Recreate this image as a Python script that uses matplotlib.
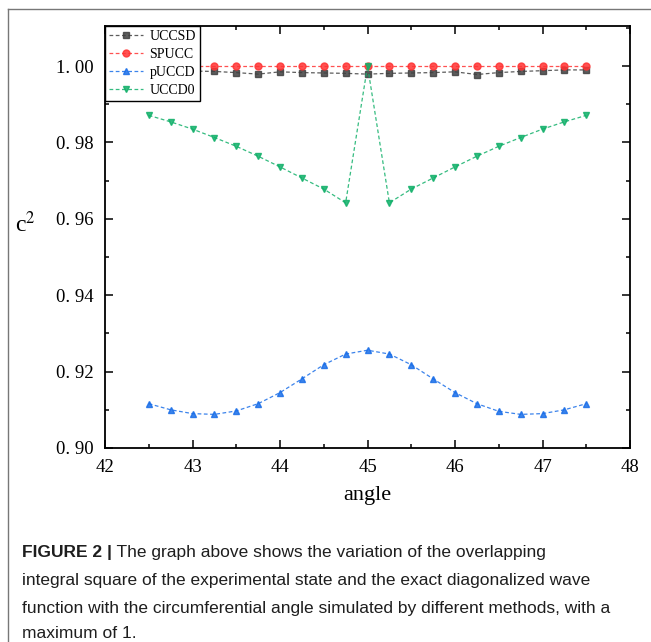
import numpy as np
import matplotlib
matplotlib.use("Agg")
import matplotlib.pyplot as plt
from matplotlib.ticker import MultipleLocator, FuncFormatter
from matplotlib.lines import Line2D

# data
angle = [42.5, 42.75, 43.0, 43.25, 43.5, 43.75, 44.0, 44.25, 44.5, 44.75, 45.0,
         45.25, 45.5, 45.75, 46.0, 46.25, 46.5, 46.75, 47.0, 47.25, 47.5]
uccsd = [0.9990, 0.9988, 0.9987, 0.9986, 0.9983, 0.9979, 0.9985, 0.9983, 0.9982,
         0.9981, 0.9979, 0.9981, 0.9982, 0.9983, 0.9985, 0.9978, 0.9983, 0.9986,
         0.9988, 0.9990, 0.9990]
spucc = [1.0000] * 21
puccd = [0.9116, 0.9100, 0.9090, 0.9088, 0.9097, 0.9116, 0.9145, 0.9181, 0.9218,
         0.9246, 0.9256, 0.9246, 0.9218, 0.9181, 0.9145, 0.9116, 0.9096, 0.9088,
         0.9090, 0.9100, 0.9116]
uccd0 = [0.9871, 0.9854, 0.9835, 0.9813, 0.9790, 0.9764, 0.9736, 0.9707, 0.9678,
         0.9642, 1.0000, 0.9642, 0.9678, 0.9707, 0.9736, 0.9764, 0.9790, 0.9813,
         0.9835, 0.9854, 0.9871]

caption_bold = "FIGURE 2 |"
caption_lines = [
    " The graph above shows the variation of the overlapping",
    "integral square of the experimental state and the exact diagonalized wave",
    "function with the circumferential angle simulated by different methods, with a",
    "maximum of 1.",
]

serif = "Liberation Serif"
plt.rcParams["mathtext.fontset"] = "stix"

fig = plt.figure(figsize=(6.51, 6.42), dpi=100)
ax = fig.add_axes([0.1613, 0.3022, 0.8065, 0.6573])

series = [
    ("UCCSD", uccsd, "#404040", "s"),
    ("SPUCC", spucc, "#ff3333", "o"),
    ("pUCCD", puccd, "#1a6ee8", "^"),
    ("UCCD0", uccd0, "#12b06a", "v"),
]
for name, vals, col, mk in series:
    ax.plot(angle, vals, color=col, linestyle=(0, (3, 2)), linewidth=0.9, alpha=0.85,
            marker=mk, markersize=5, markerfacecolor=col, markeredgecolor=col,
            label=name)

ax.set_xlim(42, 48)
ax.set_ylim(0.90, 1.0105)
ax.xaxis.set_major_locator(MultipleLocator(1))
ax.xaxis.set_minor_locator(MultipleLocator(0.5))
ax.yaxis.set_major_locator(MultipleLocator(0.02))
ax.yaxis.set_minor_locator(MultipleLocator(0.01))
ax.yaxis.set_major_formatter(FuncFormatter(lambda v, p: f"{v:.2f}".replace(".", ". ")))
ax.tick_params(which="both", direction="in", top=True, right=True, width=1.1)
ax.tick_params(which="major", length=6, pad=8, labelsize=13.5)
ax.tick_params(which="minor", length=3)
for lab in ax.get_xticklabels() + ax.get_yticklabels():
    lab.set_family(serif)
for sp in ax.spines.values():
    sp.set_linewidth(1.3)

ax.set_xlabel("angle", family=serif, fontsize=16, labelpad=7)
ax.set_ylabel("c$^{2}$", family=serif, fontsize=17, rotation=0, labelpad=22)

leg = ax.legend(loc="upper left", borderaxespad=0, fancybox=False, framealpha=1,
                edgecolor="black", prop={"family": serif, "size": 10},
                handlelength=2.4, handletextpad=0.5, labelspacing=0.35,
                borderpad=0.3, numpoints=1)
leg.get_frame().set_linewidth(1.0)

# outer frame lines of the figure panel
fig.add_artist(Line2D([8 / 651, 1.0], [1 - 9 / 642, 1 - 9 / 642], color="#777777", lw=1))
fig.add_artist(Line2D([8 / 651, 8 / 651], [0, 1 - 9 / 642], color="#777777", lw=1))

# caption
cap_font = {"family": "Liberation Sans", "size": 12.5, "color": "#1e1e1e"}
x0 = 22 / 651
ys = [553, 581, 608, 634]
tb = fig.text(x0, 1 - ys[0] / 642, caption_bold, fontweight="bold", va="center", **cap_font)
fig.canvas.draw()
bb = tb.get_window_extent().transformed(fig.transFigure.inverted())
fig.text(bb.x1, 1 - ys[0] / 642, caption_lines[0], va="center", **cap_font)
for line, y in zip(caption_lines[1:], ys[1:]):
    fig.text(x0, 1 - y / 642, line, va="center", **cap_font)

fig.savefig("out.png", dpi=100)
